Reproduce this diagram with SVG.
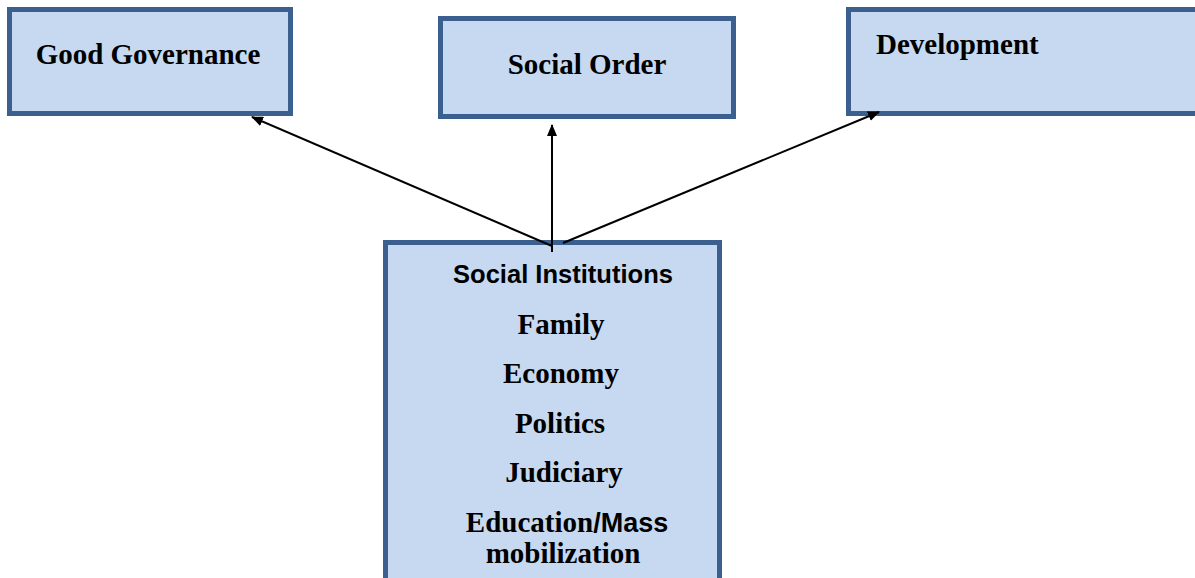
<svg xmlns="http://www.w3.org/2000/svg" width="1195" height="578" viewBox="0 0 1195 578">
<style>
.box{fill:#c6d9f0;stroke:#3b5f8e;stroke-width:5}
.t{font-family:"Liberation Serif","Times New Roman",serif;font-weight:bold;font-size:29px;fill:#000}
.s{font-family:"Liberation Sans",Arial,sans-serif;font-weight:bold;fill:#000}
.c{text-anchor:middle}
.arr{stroke:#000;stroke-width:2;fill:none;marker-end:url(#ah)}
</style>
<defs>
<marker id="ah" viewBox="0 0 12 10" refX="11" refY="5" markerWidth="12" markerHeight="10" markerUnits="userSpaceOnUse" orient="auto">
<path d="M0,0 L12,5 L0,10 Z" fill="#000"/>
</marker>
</defs>
<g id="good-governance">
<rect class="box" x="9.5" y="9.5" width="281" height="104"/>
<text class="t c" x="148" y="64">Good Governance</text>
</g>
<g id="social-order">
<rect class="box" x="440.5" y="18.5" width="293" height="98"/>
<text class="t c" x="587" y="74">Social Order</text>
</g>
<g id="development">
<rect class="box" x="848.5" y="9.5" width="360" height="104"/>
<text class="t" x="876" y="54">Development</text>
</g>
<g id="social-institutions">
<rect class="box" x="385.5" y="242.5" width="334" height="350"/>
<text class="s c" x="563" y="283" font-size="26" textLength="220" lengthAdjust="spacingAndGlyphs">Social Institutions</text>
<text class="t c" x="561" y="334">Family</text>
<text class="t c" x="561" y="383">Economy</text>
<text class="t c" x="560" y="433">Politics</text>
<text class="t c" x="564" y="482">Judiciary</text>
<text class="t c" x="567" y="532">Education<tspan class="s" font-size="27">/Mass</tspan></text>
<text class="t c" x="563" y="563">mobilization</text>
</g>
<g id="connectors">
<path class="arr" d="M552,246 L252,117"/>
<path class="arr" d="M552,252 L552,125"/>
<path class="arr" d="M563,243 L879,112"/>
</g>
</svg>
